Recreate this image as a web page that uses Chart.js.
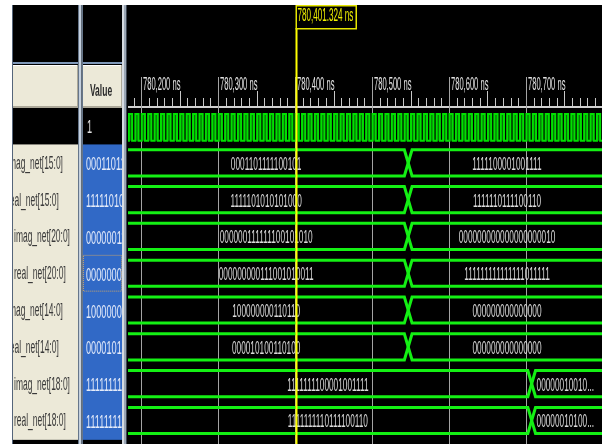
<!DOCTYPE html>
<html>
<head>
<meta charset="utf-8">
<title>Waveform</title>
<script src="https://cdn.jsdelivr.net/npm/chart.js@4.4.1/dist/chart.umd.min.js"></script>
<style>
  html, body { margin: 0; padding: 0; background: #ffffff; overflow: hidden; }
  canvas { display: block; }
</style>
</head>
<body>
<canvas id="wave" width="602" height="444"></canvas>
<script>
// ---- visible time window and cursor (ns) ----
const viewStart = 780182.8;
const viewEnd = 780798.9;
const cursorTime = 780401.324;
const cursorText = '780,401.324 ns';

// ---- time ruler ----
const rulerMajorTimes = [780200, 780300, 780400, 780500, 780600, 780700];
const rulerMajorLabels = ['780,200 ns', '780,300 ns', '780,400 ns', '780,500 ns', '780,600 ns', '780,700 ns'];
const rulerMinorStep = 10;
const rulerMidStep = 50;

// ---- clock: level of each half period, starting at the first edge ----
const clockValue = '1';
const clockFirstEdge = 780184.0;
const clockHalfPeriod = 4.1667;
const clockLevels =
  '1010101010' + '1010101010' + '1010101010' + '1010101010' + '1010101010' +
  '1010101010' + '1010101010' + '1010101010' + '1010101010' + '1010101010' +
  '1010101010' + '1010101010' + '1010101010' + '1010101010' + '101010101';

// ---- buses ----
const busNames = [
  'imag_net[15:0]', 'real_net[15:0]', 'imag_net[20:0]', 'real_net[20:0]',
  'imag_net[14:0]', 'real_net[14:0]', 'imag_net[18:0]', 'real_net[18:0]'
];
const busChangeTimes = [780547, 780547, 780547, 780547, 780547, 780547, 780707.5, 780707.5];
const busValuesBefore = [
  '0001101111100101', '1111101010101000',
  '000000111111100101010', '000000000111001010011',
  '100000000110110', '000010100110100',
  '1111111100001001111', '1111111110111100110'
];
const busValuesAfter = [
  '1111100001001111', '1111110111100110',
  '000000000000000000010', '111111111111111011111',
  '000000000000000', '000000000000000',
  '0000001001010110111', '0000001010001101010'
];

// ---- drawing style ----
const nameShift = [-7, -7, 0, 0, -7, -7, 0, 0];
const focusedRow = 3;
const busHalf = 0.355;
const clockHigh = -0.33;
const clockLow = 0.40;
const edgeHalfNs = 5;
const GREEN = '#14f014';
const TEXT_FONT = '18px "Liberation Sans", Arial, sans-serif';

function squeezedText(ctx, text, x, y, font, sx, color, align) {
  ctx.save();
  ctx.font = font;
  ctx.fillStyle = color;
  ctx.textAlign = 'left';
  ctx.textBaseline = 'alphabetic';
  const w = ctx.measureText(text).width * sx;
  const x0 = align === 'center' ? x - w / 2 : (align === 'right' ? x - w : x);
  ctx.translate(x0, y);
  ctx.scale(sx, 1);
  ctx.fillText(text, 0, 0);
  ctx.restore();
  return w;
}

function textWidth(ctx, text, font, sx) {
  ctx.save();
  ctx.font = font;
  const w = ctx.measureText(text).width * sx;
  ctx.restore();
  return w;
}

function drawHeaderCell(ctx, x0, x1, y0, y1) {
  ctx.fillStyle = '#ece9d8';
  ctx.fillRect(x0, y0, x1 - x0, y1 - y0);
  ctx.fillStyle = '#ffffff';
  ctx.fillRect(x0, y0, x1 - x0, 1);
  ctx.fillStyle = '#aca899';
  ctx.fillRect(x0, y1 - 2, x1 - x0, 2);
  ctx.fillRect(x1 - 1, y0, 1, y1 - y0);
}

// ---- datasets ----
const datasets = [];

// clock row (row 0), stepped square wave
const clockPoints = [{ x: viewStart - 10, y: clockLow }];
for (let k = 0; k < clockLevels.length; k++) {
  clockPoints.push({
    x: clockFirstEdge + k * clockHalfPeriod,
    y: clockLevels[k] === '1' ? clockHigh : clockLow
  });
}
clockPoints.push({ x: viewEnd + 10, y: clockPoints[clockPoints.length - 1].y });
datasets.push({
  data: clockPoints,
  stepped: true,
  borderColor: '#00e000',
  borderWidth: 2,
  backgroundColor: '#0a6a0a',
  fill: { value: clockLow },
  pointRadius: 0,
  clip: 0
});

// bus rows: two crossing traces per bus give the hexagon-style value band
busNames.forEach((name, i) => {
  const row = i + 1;
  const t = busChangeTimes[i];
  const top = row - busHalf, bot = row + busHalf;
  datasets.push({
    data: [
      { x: viewStart - 10, y: top }, { x: t - edgeHalfNs, y: top },
      { x: t + edgeHalfNs, y: bot }, { x: viewEnd + 10, y: bot }
    ],
    borderColor: GREEN, borderWidth: 3, pointRadius: 0, fill: false, clip: 0
  });
  datasets.push({
    data: [
      { x: viewStart - 10, y: bot }, { x: t - edgeHalfNs, y: bot },
      { x: t + edgeHalfNs, y: top }, { x: viewEnd + 10, y: top }
    ],
    borderColor: GREEN, borderWidth: 3, pointRadius: 0, fill: false, clip: 0
  });
});

const waveFrame = {
  id: 'waveFrame',
  beforeDraw(chart) {
    const ctx = chart.ctx, area = chart.chartArea;
    const xs = chart.scales.x, ys = chart.scales.y;
    const W = chart.width, H = chart.height;
    const pitch = ys.getPixelForValue(1) - ys.getPixelForValue(0);
    const rowsTop = ys.getPixelForValue(1) - pitch / 2;
    const rowsBottom = ys.getPixelForValue(busNames.length) + pitch / 2 + 1;

    ctx.save();
    ctx.fillStyle = '#ffffff';
    ctx.fillRect(0, 0, W, H);
    ctx.fillStyle = '#000000';
    ctx.fillRect(12, 5, W - 12, H - 5);

    // outer border of the name panel
    ctx.fillStyle = '#55657a';
    ctx.fillRect(12, 5, 1, H - 5);

    // separator under the empty top strip
    ctx.fillStyle = '#7f98b8';
    ctx.fillRect(13, 62, 65, 2);
    ctx.fillRect(83, 62, 39, 2);

    // column headers
    drawHeaderCell(ctx, 13, 78, 65, 108);
    drawHeaderCell(ctx, 83, 122, 65, 108);

    // selected bus rows
    ctx.fillStyle = '#ece9d8';
    ctx.fillRect(13, rowsTop, 65, rowsBottom - rowsTop);
    ctx.fillStyle = '#3169c6';
    ctx.fillRect(83, rowsTop, 39, rowsBottom - rowsTop);

    // column splitters
    ctx.fillStyle = '#66768a'; ctx.fillRect(78, 5, 1, H - 5);
    ctx.fillStyle = '#c4d0de'; ctx.fillRect(79, 5, 2.5, H - 5);
    ctx.fillStyle = '#66768a'; ctx.fillRect(81.5, 5, 1.5, H - 5);
    ctx.fillStyle = '#d6dbe1'; ctx.fillRect(122, 5, 2, H - 5);
    ctx.fillStyle = '#9aa6b4'; ctx.fillRect(124, 5, 2, H - 5);
    ctx.fillStyle = '#3c4450'; ctx.fillRect(126, 5, 1, H - 5);

    // time ruler and grid lines
    ctx.beginPath();
    ctx.rect(area.left, 0, area.right - area.left, H);
    ctx.clip();
    ctx.fillStyle = '#d0d0d0';
    ctx.fillRect(area.left, 106, area.right - area.left, 2);
    const kStart = Math.ceil(viewStart / rulerMinorStep);
    const kEnd = Math.floor(viewEnd / rulerMinorStep);
    ctx.fillStyle = '#c8c8c8';
    for (let k = kStart; k <= kEnd; k++) {
      const t = k * rulerMinorStep;
      const px = Math.round(xs.getPixelForValue(t));
      if (rulerMajorTimes.includes(t)) continue;
      const isMid = (t % rulerMidStep) === 0;
      ctx.fillRect(px, isMid ? 91 : 98, 1, isMid ? 15 : 8);
    }
    rulerMajorTimes.forEach((t, i) => {
      const px = Math.round(xs.getPixelForValue(t));
      ctx.fillStyle = '#a4a4a4';
      ctx.fillRect(px, 77, 1, H - 77);
      squeezedText(ctx, rulerMajorLabels[i], px + 2, 90, TEXT_FONT, 0.42, '#e4e4e4', 'left');
    });
    ctx.restore();
  },

  afterDatasetsDraw(chart) {
    const ctx = chart.ctx, area = chart.chartArea;
    const xs = chart.scales.x, ys = chart.scales.y;
    const H = chart.height;
    const pitch = ys.getPixelForValue(1) - ys.getPixelForValue(0);
    const edgePx = xs.getPixelForValue(viewStart + edgeHalfNs) - xs.getPixelForValue(viewStart);
    const sx = 0.46;

    // bus values inside their bands
    ctx.save();
    ctx.beginPath();
    ctx.rect(area.left, area.top, area.right - area.left, area.bottom - area.top);
    ctx.clip();
    busNames.forEach((name, i) => {
      const cy = ys.getPixelForValue(i + 1);
      const tx = xs.getPixelForValue(busChangeTimes[i]);
      const segments = [
        { x0: area.left, x1: tx - edgePx, text: busValuesBefore[i] },
        { x0: tx + edgePx, x1: area.right, text: busValuesAfter[i] }
      ];
      segments.forEach(seg => {
        const x0 = Math.max(seg.x0, area.left);
        const x1 = Math.min(seg.x1, area.right);
        if (x1 - x0 < 8) return;
        const avail = x1 - x0 - 6;
        let s = seg.text;
        if (textWidth(ctx, s, TEXT_FONT, sx) <= avail) {
          squeezedText(ctx, s, (x0 + x1) / 2, cy + 7, TEXT_FONT, sx, '#dadada', 'center');
        } else {
          while (s.length > 1 && textWidth(ctx, s + '...', TEXT_FONT, sx) > avail) s = s.slice(0, -1);
          squeezedText(ctx, s + '...', x0 + 1, cy + 7, TEXT_FONT, sx, '#dadada', 'left');
        }
      });
    });
    ctx.restore();

    // names column
    ctx.save();
    ctx.beginPath();
    ctx.rect(13, 108, 65, H - 108);
    ctx.clip();
    busNames.forEach((name, i) => {
      const cy = ys.getPixelForValue(i + 1);
      squeezedText(ctx, name, 14 + nameShift[i], cy + 6, TEXT_FONT, 0.47, '#3a3a3a', 'left');
    });
    ctx.restore();

    // value column
    ctx.save();
    ctx.beginPath();
    ctx.rect(83, 65, 39, H - 65);
    ctx.clip();
    squeezedText(ctx, 'Value', 101, 96, 'bold 17px "Liberation Sans", Arial, sans-serif', 0.5, '#2a2a2a', 'center');
    squeezedText(ctx, clockValue, 87, 133, TEXT_FONT, 0.51, '#e0e0e0', 'left');
    busNames.forEach((name, i) => {
      const cy = ys.getPixelForValue(i + 1);
      squeezedText(ctx, busValuesBefore[i], 86, cy + 7.5, TEXT_FONT, 0.51, '#e4ebfa', 'left');
    });
    // keyboard focus outline
    const fy = ys.getPixelForValue(focusedRow + 1);
    ctx.setLineDash([1, 1]);
    ctx.strokeStyle = '#c9a46a';
    ctx.lineWidth = 1;
    ctx.strokeRect(83.5, fy - pitch / 2 + 0.5, 38, pitch - 1);
    ctx.restore();

    // time cursor
    const cx = xs.getPixelForValue(cursorTime);
    ctx.save();
    ctx.fillStyle = '#ffff00';
    ctx.fillRect(Math.round(cx) - 0.5, 28, 2, H - 28);
    ctx.strokeStyle = '#e6e600';
    ctx.lineWidth = 1.5;
    ctx.strokeRect(Math.round(cx) + 0.25, 5.75, 60, 23);
    squeezedText(ctx, cursorText, Math.round(cx) + 1.5, 21, TEXT_FONT, 0.45, '#f0f000', 'left');
    ctx.restore();
  }
};

new Chart(document.getElementById('wave'), {
  type: 'line',
  data: { datasets },
  options: {
    responsive: false,
    animation: false,
    devicePixelRatio: 1,
    layout: { padding: { left: 128, top: 108, right: 0, bottom: 0 } },
    plugins: { legend: { display: false }, tooltip: { enabled: false } },
    elements: { line: { tension: 0 }, point: { radius: 0 } },
    scales: {
      x: { type: 'linear', min: viewStart, max: viewEnd, display: false },
      y: { type: 'linear', min: -0.49, max: 8.64, reverse: true, display: false }
    }
  },
  plugins: [waveFrame]
});
</script>
</body>
</html>
